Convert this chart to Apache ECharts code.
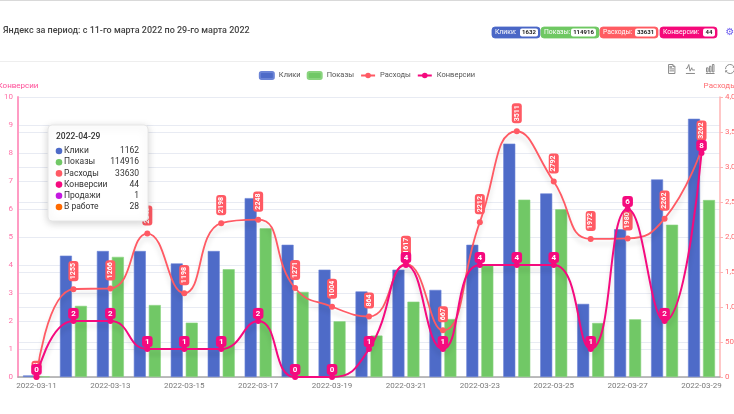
<!DOCTYPE html>
<html>
<head>
<meta charset="utf-8">
<script src="https://cdn.jsdelivr.net/npm/echarts@6/dist/echarts.min.js"></script>
<style>
html,body{margin:0;padding:0;background:#fff;}
#c{width:734px;height:414px;}
</style>
</head>
<body>
<div id="c"></div>
<script>
const dates = ['2022-03-11','2022-03-12','2022-03-13','2022-03-14','2022-03-15','2022-03-16','2022-03-17','2022-03-18','2022-03-19','2022-03-20','2022-03-21','2022-03-22','2022-03-23','2022-03-24','2022-03-25','2022-03-26','2022-03-27','2022-03-28','2022-03-29'];
const clicks = [1,78,81,81,73,81,115,85,69,55,69,56,85,150,118,47,95,127,166];
const shows = [38,4572,7722,4626,3492,6930,9558,5472,3582,2664,4842,3726,7164,11400,10780,3474,3708,9790,11376];
const expenses = [3,1255,1266,2049,1198,2198,2248,1271,1004,864,1617,667,2212,3511,2792,1972,1980,2262,3262];
const conversions = [0,2,2,1,1,1,2,0,0,1,4,1,4,4,4,1,6,2,8];

const titleText = 'Яндекс за период: с 11-го марта 2022 по 29-го марта 2022';
const totalNames = ['Клики','Показы','Расходы','Конверсии'];
const totalValues = [1632,114916,33631,44];

const tipDate = '2022-04-29';
const tipNames = ['Клики','Показы','Расходы','Конверсии','Продажи','В работе'];
const tipValues = [1162,114916,33630,44,1,28];

const C_BLUE = '#4e6bc8', C_GREEN = '#71c866', C_RED = '#ff5a64', C_PINK = '#f50a7e';
const tipColors = [C_BLUE, C_GREEN, C_RED, C_PINK, '#c318e0', '#ff6a00'];
const badgeColors = ['#4a67c6', '#6fc863', '#ff5c62', '#f5097a'];
const badgeX = [492, 541, 600, 660], badgeW = [48, 58, 58, 57];
const innerX = [520, 571, 635, 703], innerW = [18, 25, 21, 12];

const FONT = 'Roboto, "Noto Sans", sans-serif';
const chart = echarts.init(document.getElementById('c'));

const graphics = [];
graphics.push({type:'line', shape:{x1:0,y1:0.5,x2:734,y2:0.5}, style:{stroke:'#d9d9d9',lineWidth:1}, silent:true});
graphics.push({type:'line', shape:{x1:0,y1:61.5,x2:734,y2:61.5}, style:{stroke:'#eeeeee',lineWidth:1}, silent:true});
graphics.push({type:'text', x:3, y:31, style:{text:titleText, fill:'#444', font:'500 9px ' + FONT, textVerticalAlign:'middle'}});
totalNames.forEach((n, i) => {
  graphics.push({type:'rect', shape:{x:badgeX[i], y:27, width:badgeW[i], height:11, r:3}, style:{fill:badgeColors[i], stroke:badgeColors[i], lineWidth:0.8}});
  graphics.push({type:'text', x:badgeX[i] + 3, y:32.5, style:{text:n + ':', fill:'#fff', font:'6.8px ' + FONT, textVerticalAlign:'middle'}});
  graphics.push({type:'rect', shape:{x:innerX[i], y:28.5, width:innerW[i], height:8, r:2}, style:{fill:'#fff'}});
  graphics.push({type:'text', x:innerX[i] + innerW[i] / 2, y:32.5, style:{text:String(totalValues[i]), fill:'#222', font:'bold 6px ' + FONT, textAlign:'center', textVerticalAlign:'middle'}});
});
graphics.push({type:'text', x:730, y:32, style:{text:'⚙', fill:'#6e5ff0', font:'10px "DejaVu Sans"', textAlign:'center', textVerticalAlign:'middle'}});

// static tooltip box
graphics.push({type:'rect', z:100, shape:{x:48, y:125, width:100, height:96, r:4}, style:{fill:'#fff', stroke:'#e6e6e6', lineWidth:1, shadowBlur:8, shadowColor:'rgba(0,0,0,0.18)', shadowOffsetY:2}});
graphics.push({type:'text', z:101, x:56, y:137, style:{text:tipDate, fill:'#333', font:'500 8.5px ' + FONT, textVerticalAlign:'middle'}});
tipNames.forEach((n, i) => {
  const y = 151 + i * 11.2;
  graphics.push({type:'circle', z:101, shape:{cx:59, cy:y, r:3.3}, style:{fill:tipColors[i]}});
  graphics.push({type:'text', z:101, x:64, y:y, style:{text:n, fill:'#333', font:'8.5px ' + FONT, textVerticalAlign:'middle'}});
  graphics.push({type:'text', z:101, x:139, y:y, style:{text:String(tipValues[i]), fill:'#333', font:'8.5px ' + FONT, textAlign:'right', textVerticalAlign:'middle'}});
});

const splitLine = {show:true, lineStyle:{color:'#e8ebf3', width:1}};

chart.setOption({
  animation:false,
  textStyle:{fontFamily:FONT},
  graphic:graphics,
  legend:{
    top:66, left:'center', itemWidth:14, itemHeight:7, itemGap:6,
    textStyle:{fontSize:7.5, color:'#555'},
    data:[
      {name:'Клики', icon:'roundRect'},
      {name:'Показы', icon:'roundRect'},
      {name:'Расходы'},
      {name:'Конверсии'}
    ]
  },
  toolbox:{
    orient:'horizontal', right:-18, top:47, itemSize:9, itemGap:6,
    iconStyle:{borderColor:'#8a8a8a'},
    feature:{dataView:{}, magicType:{type:['line','bar']}, restore:{}}
  },
  grid:{left:18, right:14, top:97, bottom:37, containLabel:false, outerBoundsMode:'none'},
  xAxis:{
    type:'category', data:dates, boundaryGap:true,
    axisLine:{lineStyle:{color:'#a8a8a8', width:1.5}},
    axisTick:{alignWithLabel:true, interval:1, lineStyle:{color:'#a8a8a8'}},
    axisLabel:{interval:1, color:'#7a7a7a', fontSize:8, margin:5}
  },
  yAxis:[
    {type:'value', position:'left', min:0, max:10, interval:1,
     name:'Конверсии', nameGap:7, nameTextStyle:{color:'#ff4d97', fontSize:8},
     axisLine:{show:true, lineStyle:{color:'#ff9cc4', width:2}},
     axisTick:{show:false},
     axisLabel:{color:'#ff6fa6', fontSize:8, margin:5},
     splitLine:splitLine},
    {type:'value', position:'right', min:0, max:4000, interval:500,
     name:'Расходы', nameGap:7, nameTextStyle:{color:'#ff6b70', fontSize:8},
     axisLine:{show:true, lineStyle:{color:'#ffb4b4', width:1.5}},
     axisTick:{show:true, length:3, lineStyle:{color:'#ffb4b4'}},
     axisLabel:{color:'#ff6b70', fontSize:8, margin:5, formatter:v => v.toLocaleString('en-US')},
     splitLine:splitLine},
    {type:'value', show:false, min:0, max:180},
    {type:'value', show:false, min:0, max:18000}
  ],
  series:[
    {name:'Клики', type:'bar', yAxisIndex:2, data:clicks, barWidth:12, barGap:'25%',
     itemStyle:{color:C_BLUE, borderColor:'#6b84d6', borderWidth:0.6}},
    {name:'Показы', type:'bar', yAxisIndex:3, data:shows, barWidth:12,
     itemStyle:{color:C_GREEN, borderColor:'#8ad47f', borderWidth:0.6}},
    {name:'Расходы', type:'line', yAxisIndex:1, data:expenses, smooth:true, z:5,
     symbol:'circle', symbolSize:6, itemStyle:{color:C_RED},
     lineStyle:{width:1.8, color:C_RED, shadowColor:'rgba(0,0,0,0.15)', shadowBlur:5, shadowOffsetY:5},
     label:{show:true, position:'top', distance:5, rotate:90, align:'left', verticalAlign:'middle',
            color:'#fff', fontSize:7, fontWeight:'bold', backgroundColor:C_RED, borderRadius:3, padding:[2,2,1,2]}},
    {name:'Конверсии', type:'line', yAxisIndex:0, data:conversions, smooth:true, z:6,
     symbol:'circle', symbolSize:6, itemStyle:{color:C_PINK},
     lineStyle:{width:2, color:C_PINK, shadowColor:'rgba(0,0,0,0.15)', shadowBlur:5, shadowOffsetY:5},
     label:{show:true, position:'top', distance:-1,
            color:'#fff', fontSize:8, fontWeight:'bold', backgroundColor:C_PINK, borderRadius:3, padding:[2,3,1,3]}}
  ]
});
</script>
</body>
</html>
